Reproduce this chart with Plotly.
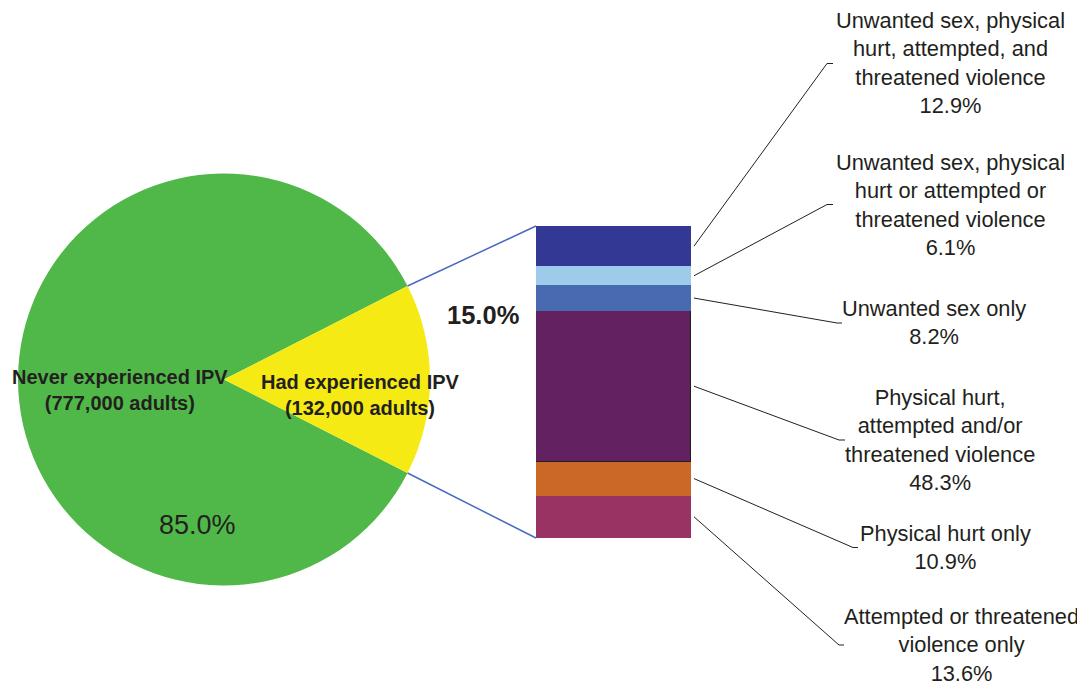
import math
import plotly.graph_objects as go

# ---------------- data ----------------
pie_labels = ["Never experienced IPV", "Had experienced IPV"]
pie_counts = ["777,000 adults", "132,000 adults"]
pie_values = [85.0, 15.0]
pie_colors = ["#50B848", "#F5EA14"]

# stacked bar, listed from bottom to top
bar_labels = [
    "Attempted or threatened<br>violence only",
    "Physical hurt only",
    "Physical hurt,<br>attempted and/or<br>threatened violence",
    "Unwanted sex only",
    "Unwanted sex, physical<br>hurt or attempted or<br>threatened violence",
    "Unwanted sex, physical<br>hurt, attempted, and<br>threatened violence",
]
bar_values = [13.6, 10.9, 48.3, 8.2, 6.1, 12.9]
bar_colors = ["#993364", "#CB6727", "#632162", "#486AB1", "#9FCBEB", "#333895"]

# ---------------- layout geometry (window pixels) ----------------
W, H = 1085, 686
OFF = 8  # page body margin offset
def X(px):
    return (px - OFF) / W
def Y(py):
    return 1 - (py - OFF) / H

pie_cx, pie_cy, pie_r = 224, 379.5, 206
bar_left, bar_right, bar_top, bar_bottom = 536, 691, 226, 538

# label anchor positions (center x, center y) and leader elbow x positions
label_pos = [(962, 645), (945, 547.5), (940, 440), (934, 323), (950, 204.5), (950, 63.5)]
elbow_x = [(839, 844), (853, 858), (839, 845), (837, 842), (827, 833), (827, 833)]

TEXT = "#231F20"
FONT = "Liberation Sans, Arial, sans-serif"

fig = go.Figure()

# pie (green first, yellow slice centred on 3 o'clock)
fig.add_trace(go.Pie(
    labels=pie_labels, values=pie_values, sort=False, direction="clockwise",
    rotation=90 + pie_values[1] / 100 * 360 / 2,
    marker=dict(colors=pie_colors, line=dict(width=0)),
    textinfo="none", showlegend=False,
    domain=dict(x=[X(pie_cx - pie_r), X(pie_cx + pie_r)],
                y=[Y(pie_cy + pie_r), Y(pie_cy - pie_r)]),
))

# stacked bar
for lab, val, col in zip(bar_labels, bar_values, bar_colors):
    is_main = val == max(bar_values)
    fig.add_trace(go.Bar(
        x=[0], y=[val], width=1, name=lab.replace("<br>", " "),
        marker=dict(color=col, line=dict(color=TEXT if is_main else col,
                                         width=1.5 if is_main else 0)),
        showlegend=False,
    ))

fig.update_layout(
    width=W, height=H, margin=dict(l=0, r=0, t=0, b=0),
    paper_bgcolor="white", plot_bgcolor="white",
    barmode="stack", bargap=0,
    xaxis=dict(domain=[X(bar_left), X(bar_right)], range=[-0.5, 0.5], visible=False, fixedrange=True),
    yaxis=dict(domain=[Y(bar_bottom), Y(bar_top)], range=[0, sum(bar_values)], visible=False, fixedrange=True),
    font=dict(family=FONT, color=TEXT),
)

shapes = []
annotations = []

# connectors pie -> bar
half = pie_values[1] / 100 * math.pi  # half-angle of the yellow slice
ex = pie_cx + pie_r * math.cos(half)
for sign, by in ((-1, bar_top), (1, bar_bottom)):
    ey = pie_cy + sign * pie_r * math.sin(half)
    shapes.append(dict(type="line", xref="paper", yref="paper",
                       x0=X(ex), y0=Y(ey), x1=X(bar_left), y1=Y(by),
                       line=dict(color="#4A6AC0", width=1.5)))

# leader lines and labels
total = sum(bar_values)
cum = 0
for i, (lab, val) in enumerate(zip(bar_labels, bar_values)):
    mid = cum + val / 2
    cum += val
    sy = bar_bottom - mid / total * (bar_bottom - bar_top)
    lx, ly = label_pos[i]
    e0, e1 = elbow_x[i]
    shapes.append(dict(type="path", xref="paper", yref="paper",
                       path=f"M {X(bar_right + 3)} {Y(sy)} L {X(e0)} {Y(ly)} L {X(e1)} {Y(ly)}",
                       line=dict(color=TEXT, width=1)))
    annotations.append(dict(xref="paper", yref="paper", x=X(lx), y=Y(ly),
                            text=f"{lab}<br>{val:.1f}%", showarrow=False,
                            xanchor="center", yanchor="middle", align="center",
                            font=dict(size=21.8, family=FONT, color=TEXT)))

# pie labels
annotations.append(dict(xref="paper", yref="paper", x=X(120), y=Y(390.5),
                        text=f"<b>{pie_labels[0]}<br>({pie_counts[0]})</b>", showarrow=False,
                        xanchor="center", yanchor="middle", align="center",
                        font=dict(size=20, family=FONT, color=TEXT)))
annotations.append(dict(xref="paper", yref="paper", x=X(360), y=Y(394.5),
                        text=f"<b>{pie_labels[1]}<br>({pie_counts[1]})</b>", showarrow=False,
                        xanchor="center", yanchor="middle", align="center",
                        font=dict(size=20, family=FONT, color=TEXT)))
annotations.append(dict(xref="paper", yref="paper", x=X(197.5), y=Y(524.5),
                        text=f"{pie_values[0]:.1f}%", showarrow=False,
                        xanchor="center", yanchor="middle",
                        font=dict(size=27, family=FONT, color=TEXT)))
annotations.append(dict(xref="paper", yref="paper", x=X(483), y=Y(315),
                        text=f"<b>{pie_values[1]:.1f}%</b>", showarrow=False,
                        xanchor="center", yanchor="middle",
                        font=dict(size=25.5, family=FONT, color=TEXT)))

fig.update_layout(shapes=shapes, annotations=annotations)
fig.write_html("out.html")
